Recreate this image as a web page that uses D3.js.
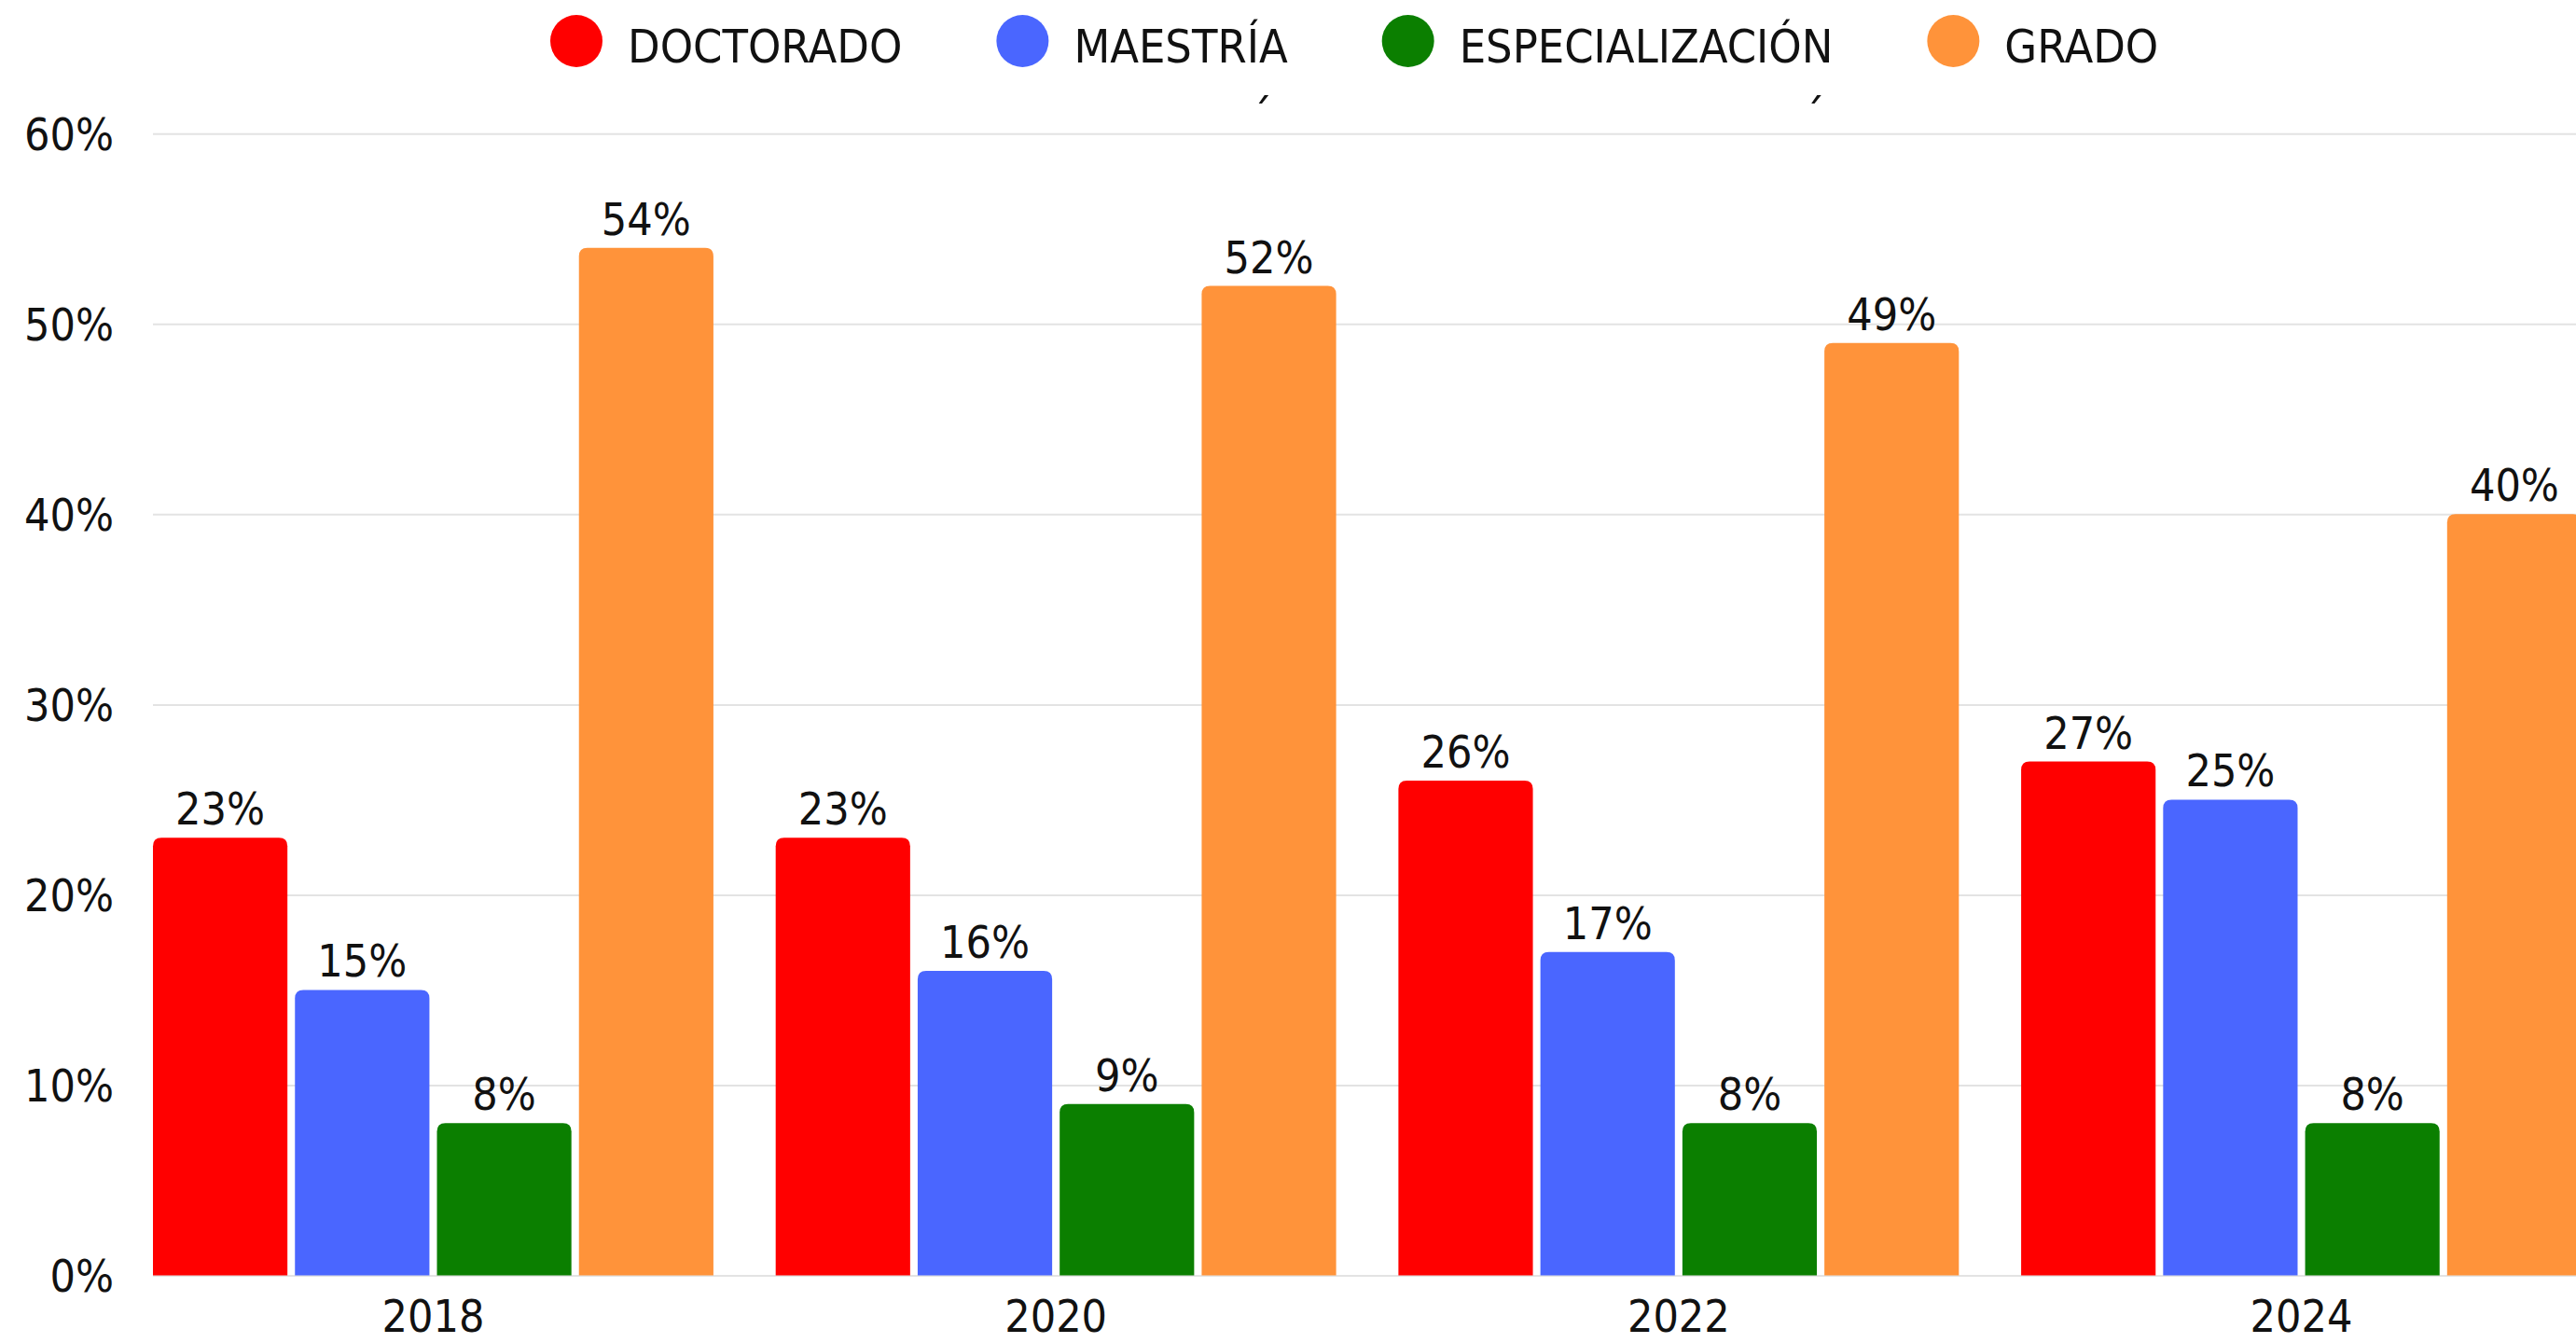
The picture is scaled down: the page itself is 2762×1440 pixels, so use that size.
<!DOCTYPE html>
<meta charset="utf-8">
<style>
body { margin: 0; background: #fff; }
svg { display: block; }
text { font-family: "DejaVu Sans Condensed", "DejaVu Sans", sans-serif; font-stretch: condensed; fill: #111; }
.grid line { stroke: #e3e3e3; stroke-width: 2px; }
.grid .domain { display: none; }
</style>
<svg width="2762" height="1440"></svg>
<script src="https://d3js.org/d3.v7.min.js"></script>
<script>

var years = ["2018", "2020", "2022", "2024"];
var series = ["DOCTORADO", "MAESTRÍA", "ESPECIALIZACIÓN", "GRADO"];
var colors = ["#ff0000", "#4a66ff", "#0b7f00", "#ff933a"];
var doctorado = [0.23, 0.23, 0.26, 0.27];
var maestria = [0.15, 0.16, 0.17, 0.25];
var especializacion = [0.08, 0.09, 0.08, 0.08];
var grado = [0.54, 0.52, 0.49, 0.40];
var yTicks = [0, 0.1, 0.2, 0.3, 0.4, 0.5, 0.6];

var values = [doctorado, maestria, especializacion, grado];

var svg = d3.select("svg"),
    width = +svg.attr("width"),
    height = +svg.attr("height");

var plotLeft = 164, plotRight = 2768, plotTop = 143.3, plotBottom = 1367.5;

var x0 = d3.scaleBand().domain(years).range([plotLeft, plotRight]).paddingInner(0.1).paddingOuter(0);
var x1 = d3.scaleBand().domain(series).range([0, x0.bandwidth()]).paddingInner(0.053).paddingOuter(0);
var y = d3.scaleLinear().domain([0, 0.6]).range([plotBottom, plotTop]);
var color = d3.scaleOrdinal().domain(series).range(colors);
var pct = d3.format(".0%");

// gridlines
svg.append("g")
    .attr("class", "grid")
    .attr("transform", "translate(" + plotLeft + ",0)")
    .call(d3.axisLeft(y).tickValues(yTicks).tickSize(-(width - plotLeft)).tickFormat(""));

// y tick labels
svg.append("g")
  .selectAll("text")
  .data(yTicks)
  .enter().append("text")
    .attr("x", 122)
    .attr("y", function(d) { return y(d); })
    .attr("dy", "0.37em")
    .attr("text-anchor", "end")
    .style("font-size", "48px")
    .text(pct);

// x labels
svg.append("g")
  .selectAll("text")
  .data(years)
  .enter().append("text")
    .attr("x", function(d) { return x0(d) + x0.bandwidth() / 2; })
    .attr("y", 1428)
    .attr("text-anchor", "middle")
    .style("font-size", "48px")
    .text(function(d) { return d; });

function topRounded(x, yTop, w, h, r) {
  r = Math.min(r, w / 2, h);
  return "M" + x + "," + (yTop + h) +
    "V" + (yTop + r) +
    "Q" + x + "," + yTop + " " + (x + r) + "," + yTop +
    "H" + (x + w - r) +
    "Q" + (x + w) + "," + yTop + " " + (x + w) + "," + (yTop + r) +
    "V" + (yTop + h) + "Z";
}

var bars = [];
years.forEach(function(yr, i) {
  series.forEach(function(s, j) {
    bars.push({ year: yr, key: s, value: values[j][i] });
  });
});

var group = svg.append("g");

group.selectAll("path")
  .data(bars)
  .enter().append("path")
    .attr("fill", function(d) { return color(d.key); })
    .attr("d", function(d) {
      var bx = x0(d.year) + x1(d.key);
      return topRounded(bx, y(d.value), x1.bandwidth(), plotBottom - y(d.value), 9);
    });

group.selectAll("text")
  .data(bars)
  .enter().append("text")
    .attr("x", function(d) { return x0(d.year) + x1(d.key) + x1.bandwidth() / 2; })
    .attr("y", function(d) { return y(d.value) - 14; })
    .attr("text-anchor", "middle")
    .style("font-size", "48px")
    .text(function(d) { return pct(d.value); });

// legend (the stray accents below two labels are in the original too)
var legend = svg.append("g");
var lx = 590;
series.forEach(function(s, j) {
  legend.append("circle")
      .attr("cx", lx + 28)
      .attr("cy", 44)
      .attr("r", 28)
      .attr("fill", color(s));
  var t = legend.append("text")
      .attr("x", lx + 83)
      .attr("y", 67)
      .style("font-size", "50px")
      .text(s);
  var w = t.node().getComputedTextLength();
  if (s === "MAESTRÍA" || s === "ESPECIALIZACIÓN") {
    legend.append("text")
        .attr("x", lx + 83 + w - (s === "MAESTRÍA" ? 28 : 20))
        .attr("y", 142)
        .attr("text-anchor", "middle")
        .style("font-size", "50px")
        .text("\u00b4");
  }
  lx = lx + 83 + w + 101;
});

</script>
